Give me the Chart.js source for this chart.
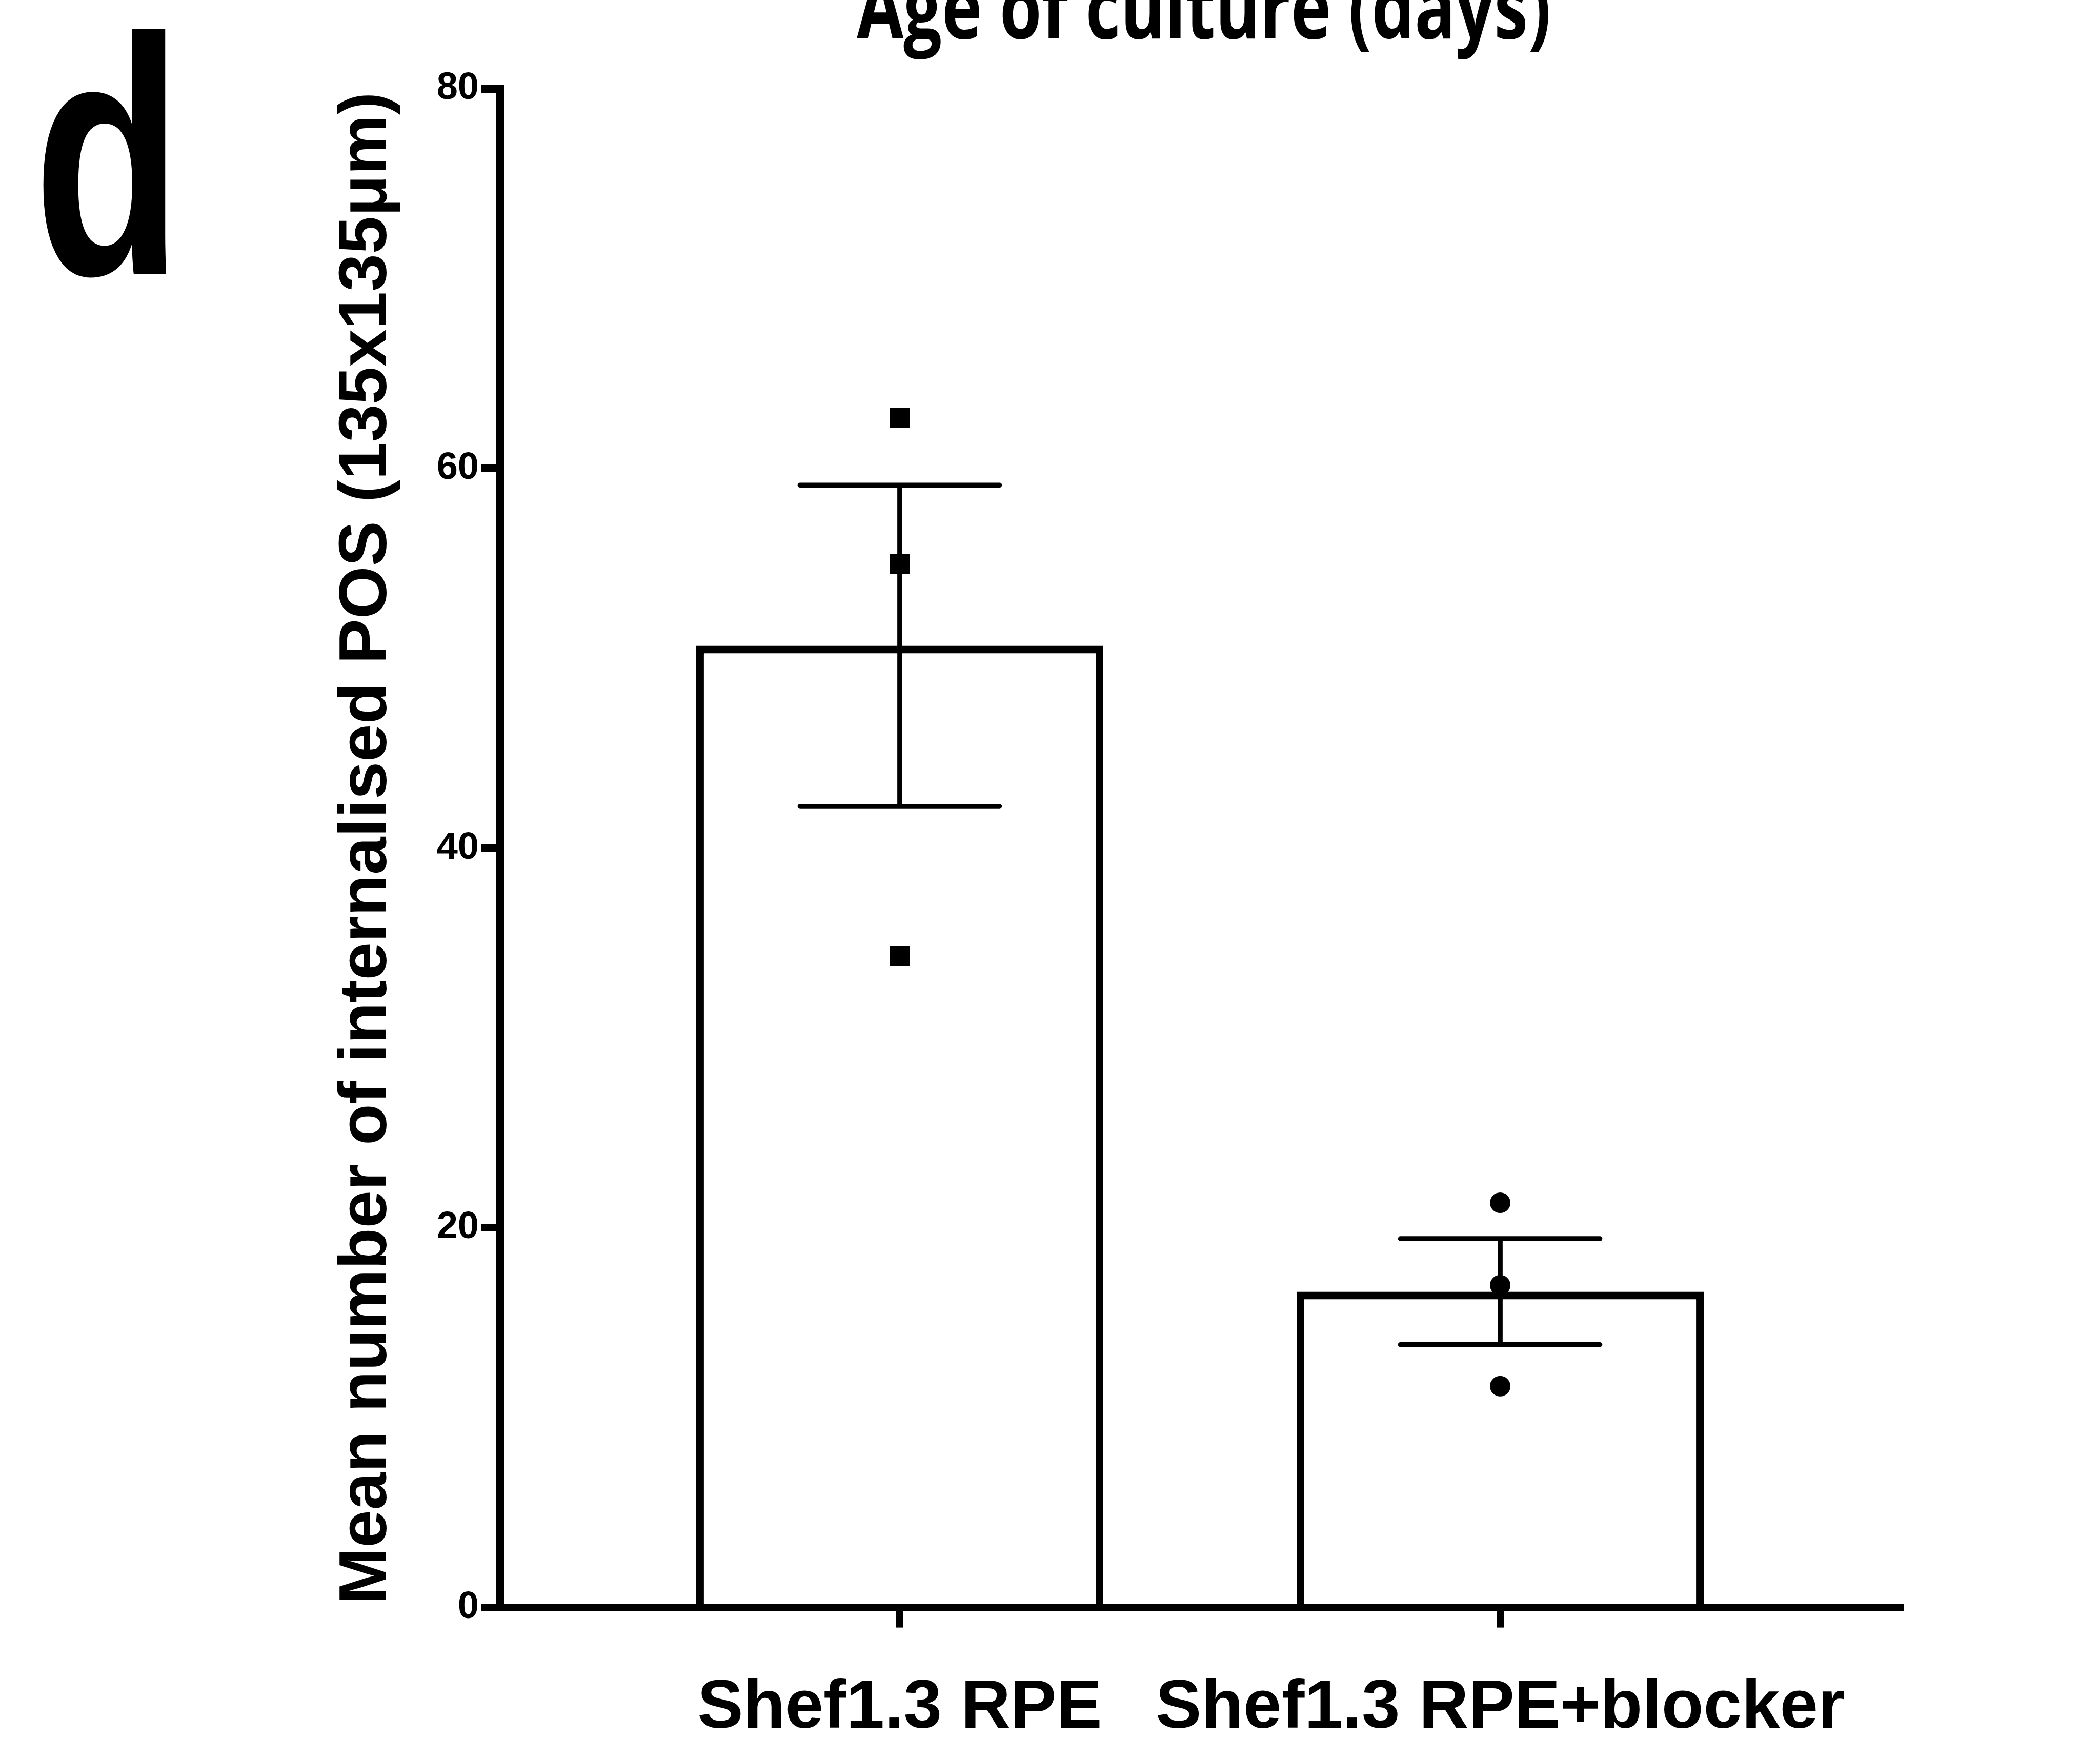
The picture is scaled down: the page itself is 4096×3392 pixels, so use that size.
<!DOCTYPE html>
<html>
<head>
<meta charset="utf-8">
<script src="https://cdn.jsdelivr.net/npm/chart.js@4.4.1/dist/chart.umd.min.js"></script>
<style>
  html, body { margin: 0; padding: 0; background: #fff; }
  #wrap { width: 4096px; height: 3392px; }
</style>
</head>
<body>
<div id="wrap"><canvas id="chart" width="4096" height="3392"></canvas></div>
<script>
// Groups on the x axis
const groups = ['Shef1.3 RPE', 'Shef1.3 RPE+blocker'];
// Bar heights (mean) and error bars (SEM)
const means = [50.66, 16.64];
const sems = [8.46, 2.79];
// Individual replicates per group
const rpePoints = [62.68, 54.98, 34.31];
const blockerPoints = [21.32, 16.98, 11.66];
// Y axis ticks
const yTicks = [0, 20, 40, 60, 80];

const panelLetter = 'd';
const topTitle = 'Age of culture (days)';
const yTitle = 'Mean number of internalised POS (135x135μm)';

const FONT = '"Liberation Sans", Arial, Helvetica, sans-serif';

// Draw SEM whiskers right after the bars, before the points
const errorBars = {
  id: 'errorBars',
  afterDatasetDraw(chart, args) {
    if (args.index !== 0) return;
    const ctx = chart.ctx;
    const y = chart.scales.y;
    ctx.save();
    ctx.strokeStyle = '#000';
    ctx.lineWidth = 9.6;
    args.meta.data.forEach((bar, i) => {
      const top = y.getPixelForValue(means[i] + sems[i]);
      const bot = y.getPixelForValue(means[i] - sems[i]);
      const half = bar.width * 0.245;
      ctx.lineCap = 'butt';
      ctx.beginPath();
      ctx.moveTo(bar.x, top);
      ctx.lineTo(bar.x, bot);
      ctx.stroke();
      ctx.lineCap = 'round';
      ctx.beginPath();
      ctx.moveTo(bar.x - half, top);
      ctx.lineTo(bar.x + half, top);
      ctx.moveTo(bar.x - half, bot);
      ctx.lineTo(bar.x + half, bot);
      ctx.stroke();
    });
    ctx.restore();
  }
};

// Panel letter and the (cropped) heading above the plot
const annotations = {
  id: 'annotations',
  afterDraw(chart) {
    const ctx = chart.ctx;
    ctx.save();
    ctx.fillStyle = '#000';
    ctx.textBaseline = 'alphabetic';

    ctx.font = 'bold 661px ' + FONT;
    ctx.textAlign = 'left';
    let m = ctx.measureText(panelLetter);
    let inkW = m.actualBoundingBoxLeft + m.actualBoundingBoxRight;
    ctx.save();
    ctx.translate(80, 535);
    ctx.scale(245 / inkW, 1);
    ctx.fillText(panelLetter, m.actualBoundingBoxLeft, 0);
    ctx.restore();

    ctx.font = 'bold 170px "Open Sans", "Noto Sans", sans-serif';
    ctx.textAlign = 'center';
    m = ctx.measureText(topTitle);
    inkW = m.actualBoundingBoxLeft + m.actualBoundingBoxRight;
    ctx.translate(2348, 75);
    ctx.scale(1349 / inkW, 1);
    ctx.fillText(topTitle, 0, 0);
    ctx.restore();
  }
};

new Chart(document.getElementById('chart'), {
  type: 'bar',
  plugins: [errorBars, annotations],
  data: {
    datasets: [
      {
        type: 'bar',
        data: means.map((v, i) => ({ x: i, y: v })),
        backgroundColor: '#ffffff',
        borderColor: '#000000',
        borderWidth: 15,
        borderSkipped: 'start',
        barPercentage: 0.678,
        categoryPercentage: 1,
        order: 3,
      },
      {
        type: 'scatter',
        data: rpePoints.map((v) => ({ x: 0, y: v })),
        pointStyle: 'rect',
        pointRadius: 27.6,
        pointBorderWidth: 0,
        backgroundColor: '#000',
        order: 1,
      },
      {
        type: 'scatter',
        data: blockerPoints.map((v) => ({ x: 1, y: v })),
        pointStyle: 'circle',
        pointRadius: 20,
        pointBorderWidth: 0,
        backgroundColor: '#000',
        order: 1,
      },
    ],
  },
  options: {
    responsive: false,
    devicePixelRatio: 1,
    animation: false,
    layout: { padding: { left: 0, top: 173, right: 390, bottom: 0 } },
    plugins: {
      legend: { display: false },
      tooltip: { enabled: false },
      title: { display: false },
    },
    scales: {
      x: {
        type: 'linear',
        min: -0.666,
        max: 1.666,
        offset: false,
        afterBuildTicks: (scale) => {
          scale.ticks = groups.map((g, i) => ({ value: i }));
        },
        afterFit: (scale) => {
          scale.height = 256.4;
        },
        ticks: {
          autoSkip: false,
          maxRotation: 0,
          minRotation: 0,
          padding: 78,
          color: '#000',
          font: { family: FONT, size: 134, weight: 'bold' },
          callback: (v) => groups[v] ?? '',
        },
        grid: {
          offset: false,
          drawOnChartArea: false,
          tickLength: 39,
          lineWidth: 13,
          color: '#000',
        },
        border: { display: true, width: 15, color: '#000' },
      },
      y: {
        min: 0,
        max: 80,
        afterBuildTicks: (scale) => {
          scale.ticks = yTicks.map((v) => ({ value: v }));
        },
        afterFit: (scale) => {
          scale.width = 975;
        },
        ticks: {
          padding: 5,
          color: '#000',
          font: { family: FONT, size: 74, weight: 'bold' },
        },
        grid: {
          drawOnChartArea: false,
          tickLength: 36,
          lineWidth: 15,
          color: '#000',
        },
        border: { display: true, width: 15, color: '#000' },
        title: {
          display: true,
          text: yTitle,
          color: '#000',
          padding: { top: 637, bottom: 0 },
          font: { family: FONT, size: 132, weight: 'bold' },
        },
      },
    },
  },
});
</script>
</body>
</html>
